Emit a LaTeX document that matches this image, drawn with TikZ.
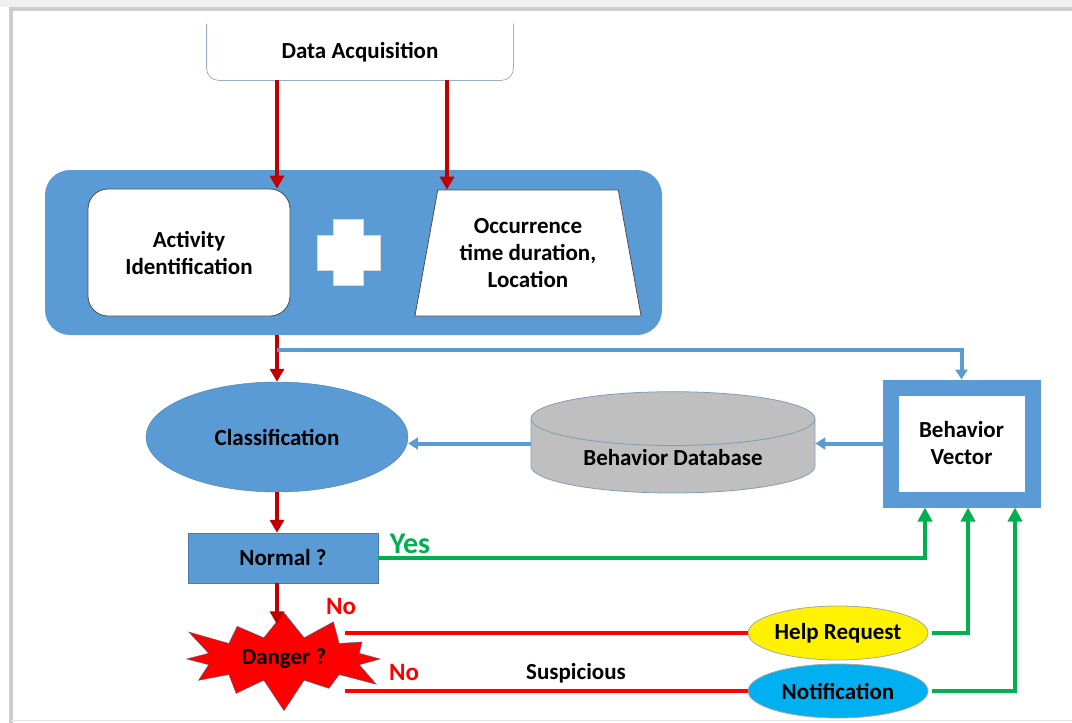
\documentclass[tikz,border=0pt]{standalone}
\usepackage{fontspec}
\setmainfont{Carlito}
\usetikzlibrary{arrows.meta,shapes.geometric,shapes.symbols}
\definecolor{flblue}{HTML}{5B9BD5}
\definecolor{fldkred}{HTML}{C00000}
\definecolor{flred}{HTML}{FF0000}
\definecolor{flgreen}{HTML}{00B050}
\definecolor{flcyan}{HTML}{00B0F0}
\definecolor{flgray}{HTML}{BFBFBF}
\definecolor{flline}{HTML}{7F9DB9}

\begin{document}
\begin{tikzpicture}[x=0.5pt,y=-0.5pt,
      font=\bfseries\fontsize{11.5}{13.5}\selectfont,
      lbl/.style={align=center,inner sep=0pt},
      redarr/.style={-{Triangle[width=7pt,length=6.5pt]},line width=2pt,draw=fldkred},
      bluearr/.style={-{Triangle[width=6pt,length=5pt]},line width=2pt,draw=flblue},
      greenarr/.style={-{Triangle[width=7pt,length=7pt]},line width=2pt,draw=flgreen},
      redline/.style={line width=2pt,draw=flred},
      bubble/.style={ellipse,draw=gray!70,thin,minimum width=90pt,minimum height=27pt,inner sep=0pt}]
    \useasboundingbox (0,0) rectangle (1072,723);
    % page frame
    \fill[gray!12] (0,0) rectangle (1072,7);
    \draw[gray!40,line width=2pt] (11,723) -- (11,9) -- (1072,9);
    \draw[gray!20,thin] (11,720) -- (1072,720);
    % data acquisition
    \node[lbl,minimum width=153pt,minimum height=28pt] (daq) at (360,52) {Data Acquisition};
    \draw[flline!80,thin,rounded corners=6pt] (daq.north west) -- (daq.south west) -- (daq.south east) -- (daq.north east);
    % feature panel
    \node[fill=flblue,rounded corners=12.5pt,minimum width=308.5pt,minimum height=82.5pt] (panel) at (353.5,252.5) {};
    \node[draw=black!70,fill=white,thin,rounded corners=10pt,minimum width=101pt,minimum height=63.5pt,lbl] (act) at (189,252.5) {Activity\\Identification};
    \fill[white,draw=gray!30,thin] (333,219) -- (363,219) -- (363,235) -- (380,235) -- (380,270) -- (363,270)
      -- (363,285) -- (333,285) -- (333,270) -- (317,270) -- (317,235) -- (333,235) -- cycle;
    \node[trapezium,trapezium angle=76,trapezium stretches=true,draw=black!70,fill=white,thin,
      minimum width=114pt,minimum height=63pt,lbl] (occ) at (528,253) {Occurrence\\time duration,\\Location};
    \coordinate (c1) at (277,0);
    \coordinate (c2) at (447,0);
    \draw[redarr] (daq.south -| c1) -- (act.north -| c1);
    \draw[redarr] (daq.south -| c2) -- (occ.north -| c2);
    % classification
    \node[ellipse,fill=flblue,draw=flblue!80!black,very thin,minimum width=131pt,minimum height=55pt,lbl] (class) at (277,437) {Classification};
    \node[draw=flblue,line width=8pt,fill=white,minimum width=71pt,minimum height=56pt,lbl] (bvec) at (961.5,443.5) {Behavior\\Vector};
    \node[cylinder,shape border rotate=90,aspect=0.3,draw=flline,fill=flgray,thin,
      minimum width=142pt,minimum height=42pt,lbl] (db) at (673,456) {\raisebox{-10pt}{Behavior Database}};
    \draw[redarr] (panel.south -| class) -- (class.north);
    \coordinate (br) at (277,350);
    \draw[bluearr] (br) -| (bvec.north);
    \draw[bluearr] (bvec.west) -- (bvec.west -| db.east);
    \draw[bluearr] (db.west |- bvec.west) -- (class.east |- bvec.west);
    % decisions
    \node[fill=flblue,draw=flblue!80!black,very thin,minimum width=95pt,minimum height=25pt,lbl] (normal) at (283,558) {Normal ?};
    \node[starburst,starburst points=12,starburst point height=17pt,fill=flred,draw=flblue!70!black,very thin,
      minimum width=112pt,minimum height=56pt,lbl] (danger) at (284,659) {Danger ?};
    \draw[redarr] (class.south) -- (normal.north -| class);
    \draw[redarr] (normal.south -| class) -- ([yshift=-6pt]danger.north -| class);
    \node[bubble,fill=yellow] (help) at (838,633) {Help Request};
    \node[bubble,fill=flcyan] (notif) at (838,691) {Notification};
    \coordinate (d1) at (345,0);
    \draw[redline] (help.west) -- (help.west -| d1);
    \draw[redline] (notif.west) -- (notif.west -| d1);
    \draw[greenarr] (normal.east) -| ([xshift=-18.25pt]bvec.south);
    \draw[greenarr] ([xshift=2pt]help.east) -| ([xshift=3.25pt]bvec.south);
    \draw[greenarr] ([xshift=2pt]notif.east) -| ([xshift=26.75pt]bvec.south);
    % labels
    \node[lbl,text=flgreen,font=\bfseries\fontsize{15}{17}\selectfont] (yes) at (410,544) {Yes};
    \node[lbl,text=flred,font=\bfseries\fontsize{12.5}{14}\selectfont] (no1) at (341,606) {No};
    \node[lbl,text=flred,font=\bfseries\fontsize{12.5}{14}\selectfont] (no2) at (404,672) {No};
    \node[lbl] (susp) at (576,673) {Suspicious};
  \end{tikzpicture}
\end{document}
